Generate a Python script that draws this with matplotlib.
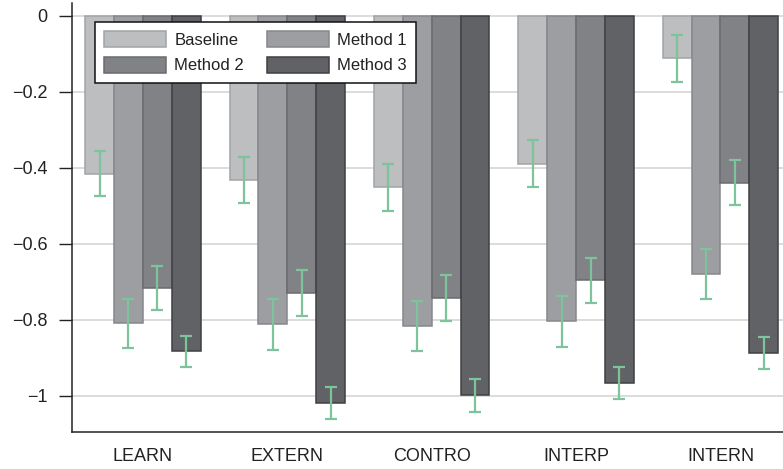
import numpy as np
import matplotlib.pyplot as plt

plt.rcParams['font.family'] = ['Liberation Sans', 'DejaVu Sans']

# 各类别、各方法的数值与误差
categories = ['LEARN', 'EXTERN', 'CONTRO', 'INTERP', 'INTERN']
methods = ['Baseline', 'Method 1', 'Method 2', 'Method 3']

baseline = [-0.415, -0.432, -0.451, -0.389, -0.112]
method1 = [-0.809, -0.812, -0.817, -0.803, -0.680]
method2 = [-0.717, -0.730, -0.743, -0.696, -0.439]
method3 = [-0.883, -1.019, -0.998, -0.967, -0.887]

baseline_err = [0.059, 0.061, 0.062, 0.062, 0.061]
method1_err = [0.065, 0.066, 0.066, 0.067, 0.066]
method2_err = [0.058, 0.060, 0.060, 0.060, 0.060]
method3_err = [0.041, 0.043, 0.043, 0.042, 0.043]

yticks = [0, -0.2, -0.4, -0.6, -0.8, -1]
ytick_labels = ['0', '\u22120.2', '\u22120.4', '\u22120.6', '\u22120.8', '\u22121']

values = [baseline, method1, method2, method3]
errors = [baseline_err, method1_err, method2_err, method3_err]
fills = ['#bdbec0', '#9c9ea1', '#818285', '#616265']
edges = ['#a2a3a5', '#85878a', '#6a6b6e', '#3e3f42']
err_color = '#7dc39b'

fig = plt.figure(figsize=(7.83, 4.69), dpi=100)
ax = fig.add_axes([0.0916, 0.078, 0.9084, 0.915])

x = np.arange(len(categories))
width = 0.2
bars = []
for i, (vals, errs) in enumerate(zip(values, errors)):
    pos = x + (i - 1.5) * width
    b = ax.bar(pos, vals, width, color=fills[i], edgecolor=edges[i],
               linewidth=1.1, label=methods[i], zorder=2)
    bars.append(b)
    ax.errorbar(pos, vals, yerr=errs, fmt='none', ecolor=err_color,
                elinewidth=1.6, capsize=4, capthick=1.6, zorder=3)

ax.set_xlim(-0.493, 4.433)
ax.set_ylim(-1.096, 0.033)

ax.set_xticks(x)
ax.set_xticklabels(categories, fontsize=13, color='#222222')
ax.set_yticks(yticks)
ax.set_yticklabels(ytick_labels, fontsize=13, color='#222222')
ax.tick_params(axis='x', length=0, pad=11)
ax.tick_params(axis='y', direction='out', length=9.5, width=1, pad=8, color='#222222')

ax.yaxis.grid(True, color='#d2d2d2', linewidth=1.1, zorder=0)
ax.set_axisbelow(True)

for side in ['top', 'right']:
    ax.spines[side].set_visible(False)
for side in ['left', 'bottom']:
    ax.spines[side].set_color('#222222')
    ax.spines[side].set_linewidth(1.1)

# 图例按行排列：Baseline, Method 1 / Method 2, Method 3
order = [0, 2, 1, 3]
leg = ax.legend([bars[k] for k in order], [methods[k] for k in order],
                loc='upper left', bbox_to_anchor=(0.0328, 0.957), ncol=2,
                fontsize=12, frameon=True, fancybox=False, framealpha=1,
                edgecolor='#111111', borderaxespad=0, handlelength=3.7,
                handleheight=1.1, handletextpad=0.5, columnspacing=1.4,
                labelspacing=0.55, borderpad=0.55)
leg.get_frame().set_linewidth(1.1)
for t in leg.get_texts():
    t.set_color('#222222')

fig.savefig('out.png', dpi=100)
